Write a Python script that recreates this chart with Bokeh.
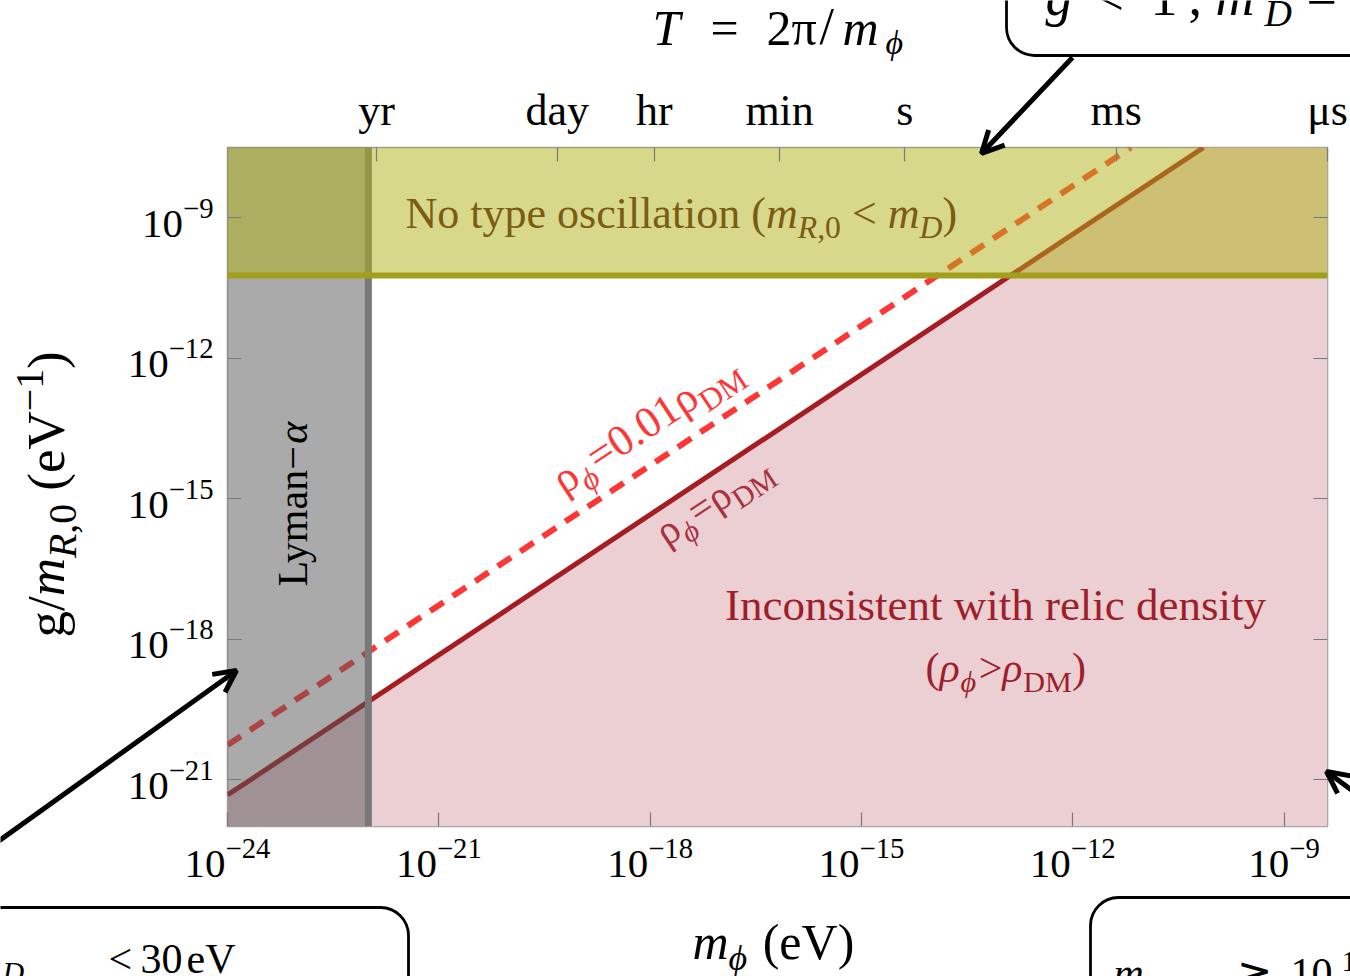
import math

from bokeh.plotting import figure
from bokeh.models import (Range1d, LogAxis, FixedTicker, Label, Arrow, OpenHead,
                          BoxAnnotation, CustomJSTickFormatter)
from bokeh.embed import file_html
from bokeh.resources import INLINE

# ---------------------------------------------------------------- data
mass_range = [1e-24, 4.1357e-9]          # m_phi axis (eV)
coupling_range = [1e-22, 3.2e-8]         # g/m_R,0 axis (eV^-1)
lyman_alpha_mass = 1e-22                 # Lyman-alpha lower bound on m_phi
no_oscillation_g = 5.9e-11               # m_R,0 < m_D above this coupling
relic_m = [1e-24, 7.2e-11]               # rho_phi = rho_DM
relic_g = [4.7e-22, 3.2e-8]
relic_1pct_m = [1e-24, 6.7e-12]          # rho_phi = 0.01 rho_DM
relic_1pct_g = [5.5e-21, 3.2e-8]

x_ticks = [1e-24, 1e-21, 1e-18, 1e-15, 1e-12, 1e-9]
y_ticks = [1e-21, 1e-18, 1e-15, 1e-12, 1e-9]

period_labels = ["yr", "day", "hr", "min", "s", "ms", "μs"]
period_seconds = [3.15576e7, 86400.0, 3600.0, 60.0, 1.0, 1e-3, 1e-6]
H_PLANCK = 4.135667696e-15               # eV s, so that T = 2*pi/m
period_masses = [H_PLANCK / t for t in period_seconds]

# ---------------------------------------------------------------- layout
W, H = 1350, 976
LEFT, RIGHT, TOP, BOTTOM = 227, 23, 147, 150
FONT = "Liberation Serif"

PINK = "#ebcfd2"
RED = "#a51c22"
LIGHT_RED = "#ff3636"
GRAY = "#555555"
YELLOW = "#b0b216"
PHI = "ϕ"

PAGE_STYLE = {"position": "absolute", "left": "0px", "top": "0px"}

chart = figure(width=W, height=H, x_axis_type="log", y_axis_type="log",
               x_range=Range1d(*mass_range), y_range=Range1d(*coupling_range),
               output_backend="svg", toolbar_location=None,
               min_border_left=LEFT, min_border_right=RIGHT,
               min_border_top=TOP, min_border_bottom=BOTTOM,
               styles=PAGE_STYLE)
chart.grid.visible = False
chart.outline_line_color = "#9a9a9a"
chart.outline_line_width = 1.5
chart.background_fill_color = "white"
chart.border_fill_color = "white"


def style_axis(ax, ticks, size, standoff):
    ax.ticker = FixedTicker(ticks=ticks)
    ax.major_tick_in = 14
    ax.major_tick_out = 0
    ax.minor_tick_in = 0
    ax.minor_tick_out = 0
    ax.axis_line_color = None
    ax.major_tick_line_color = "#7a7a7a"
    ax.major_tick_line_width = 1.2
    ax.major_label_text_font = FONT
    ax.major_label_text_font_size = size
    ax.major_label_text_color = "black"
    ax.major_label_standoff = standoff


style_axis(chart.xaxis[0], x_ticks, "41px", 12)
style_axis(chart.yaxis[0], y_ticks, "41px", 14)

right_axis = LogAxis(formatter=CustomJSTickFormatter(code="return ''"))
style_axis(right_axis, y_ticks, "10px", 0)
chart.add_layout(right_axis, "right")

top_axis = LogAxis(major_label_overrides=dict(zip(period_masses, period_labels)))
style_axis(top_axis, period_masses, "44px", 13)
chart.add_layout(top_axis, "above")

# ---------------------------------------------------------------- regions
m_lo, m_hi = mass_range
g_lo, g_hi = coupling_range

# relic density excluded (below the rho_phi = rho_DM line)
chart.patch(x=[m_lo, relic_m[0], relic_m[1], m_hi, m_hi],
            y=[g_lo, relic_g[0], relic_g[1], g_hi, g_lo],
            fill_color=PINK, line_color=None)

chart.line(relic_1pct_m, relic_1pct_g, line_color=LIGHT_RED, line_width=6,
           line_dash="16 11")
chart.line(relic_m, relic_g, line_color=RED, line_width=5)

# Lyman-alpha band
chart.quad(left=m_lo, right=lyman_alpha_mass, bottom=g_lo, top=g_hi,
           fill_color=GRAY, fill_alpha=0.5, line_color=None)
chart.segment(x0=lyman_alpha_mass, y0=g_lo, x1=lyman_alpha_mass, y1=g_hi,
              line_color="#787878", line_width=7)

# no type oscillation band
chart.quad(left=m_lo, right=m_hi, bottom=no_oscillation_g, top=g_hi,
           fill_color=YELLOW, fill_alpha=0.5, line_color=None)
chart.segment(x0=m_lo, y0=no_oscillation_g, x1=m_hi, y1=no_oscillation_g,
              line_color="#a29f1c", line_width=6)

# ---------------------------------------------------------------- notes layer
# A transparent page-sized layer on top of the chart, in page pixels
# (y grows downward), for titles, labels and the call-out boxes.
notes = figure(width=W, height=H, x_range=Range1d(0, W), y_range=Range1d(H, 0),
               output_backend="svg", toolbar_location=None, title=None,
               x_axis_location=None, y_axis_location=None, min_border=0,
               styles=dict(PAGE_STYLE, **{"pointer-events": "none"}))
notes.grid.visible = False
notes.outline_line_color = None
notes.background_fill_color = None
notes.border_fill_color = None

REG = {' ': .25, '(': .333, ')': .333, ',': .25, '.': .25, '/': .278, '<': .564,
       '=': .564, '>': .564, '−': .564, '-': .333, 'D': .722, 'I': .333, 'L': .611,
       'M': .889, 'N': .722, 'R': .667, 'T': .611, 'V': .722, 'a': .444, 'c': .444,
       'd': .5, 'e': .444, 'g': .5, 'h': .5, 'i': .278, 'l': .278, 'm': .778,
       'n': .5, 'o': .5, 'p': .5, 'r': .333, 's': .389, 't': .278, 'w': .722,
       'y': .5, 'ρ': .5, 'ϕ': .6, 'π': .55, 'α': .53, '≳': .55, 'ν': .5}
ITA = {'m': .722, 'R': .611, 'D': .722, 'T': .556, 'g': .5, 'ϕ': .6, 'ρ': .5,
       'α': .53, 'ν': .45}
BASELINE_LIFT = 0.42   # em; puts the glyph baseline on the requested point


def width(text, italic, size):
    tot = 0.0
    for ch in text:
        if italic and ch in ITA:
            tot += ITA[ch]
        elif ch.isdigit():
            tot += 0.5
        else:
            tot += REG.get(ch, 0.5)
    return tot * size


def put(x, y, text, size, color="black", italic=False, angle=0.0, align="left"):
    """Place a label by its baseline start (page pixels)."""
    lift = BASELINE_LIFT * size
    x -= lift * math.sin(angle)
    y -= lift * math.cos(angle)
    notes.add_layout(Label(x=x, y=y, text=text, text_font=FONT,
                           text_font_size=f"{size:.1f}px",
                           text_font_style="italic" if italic else "normal",
                           text_color=color, angle=angle, text_align=align,
                           text_baseline="alphabetic"))


def runs(x, y, parts, size, color="black", angle=0.0):
    """Chain text pieces (text, italic, scale, shift_em) along a (rotated) baseline."""
    ca, sa = math.cos(angle), math.sin(angle)
    adv = 0.0
    for text, italic, scale, shift in parts:
        fs = size * scale
        adv += (len(text) - len(text.lstrip(" "))) * REG[' '] * fs
        body = text.strip(" ")
        sh = shift * size
        put(x + adv * ca - sh * sa, y - adv * sa - sh * ca, body, fs, color, italic, angle)
        adv += width(body, italic, fs)
        adv += (len(text) - len(text.rstrip(" "))) * REG[' '] * fs


SUB, SUP = -0.22, 0.42

# call-out boxes and pointers
for left, right, top, bottom in [(1006, 1420, -60, 55), (-60, 408, 907, 1060),
                                 (1090, 1420, 897, 1060)]:
    notes.add_layout(BoxAnnotation(left=left, right=right, top=top, bottom=bottom,
                                   fill_alpha=0, line_color="black", line_alpha=1.0,
                                   line_width=2.8, border_radius=28))

for x0, y0, x1, y1 in [(1072, 57, 981, 153), (-8, 845, 236, 670), (1365, 800, 1326, 771)]:
    notes.add_layout(Arrow(x_start=x0, y_start=y0, x_end=x1, y_end=y1,
                           line_color="black", line_width=5,
                           end=OpenHead(size=22, line_width=5, line_color="black")))

# axis titles
put(652, 48, "T", 50, italic=True)
put(710, 48, "=", 50)
put(766, 48, "2π", 50)
put(819, 48, "/", 52)
put(842, 48, "m", 50, italic=True)
put(885, 56, PHI, 34, italic=True)

runs(68, 637, [("g/", False, 1, 0), ("m", True, 1, 0), ("R", True, .75, SUB),
               (",0", False, .75, SUB), (" (eV", False, 1, 0), ("−1", False, .75, SUP),
               (")", False, 1, 0)], 53, angle=math.pi / 2)

runs(692, 962, [("m", True, 1, 0), (PHI, True, .72, SUB), (" (eV)", False, 1, 0)], 50)

# region labels
runs(405, 231, [("No type oscillation (", False, 1, 0), ("m", True, 1, 0),
                ("R", True, .72, SUB), (",0", False, .72, SUB), (" < ", False, 1, 0),
                ("m", True, 1, 0), ("D", True, .72, SUB), (")", False, 1, 0)],
     44, color="#7c5b12")

runs(310, 586, [("Lyman−", False, 1, 0), ("α", True, 1, 0)], 42, angle=math.pi / 2)

put(995, 623, "Inconsistent with relic density", 45, color="#9e1f2b", align="center")
runs(925, 685, [("(", False, 1, 0), ("ρ", True, 1, 0), (PHI, True, .72, SUB),
                (">", False, 1, 0), ("ρ", True, 1, 0), ("DM", False, .72, SUB),
                (")", False, 1, 0)], 42, color="#9e1f2b")

line_angle = math.atan2(599, 903)
runs(566, 498, [("ρ", False, 1, 0), (PHI, True, .72, SUB), ("=0.01", False, 1, 0),
                ("ρ", False, 1, 0), ("DM", False, .72, SUB)], 44,
     color=LIGHT_RED, angle=line_angle)
runs(668, 549, [("ρ", False, 1, 0), (PHI, True, .72, SUB), ("=", False, 1, 0),
                ("ρ", False, 1, 0), ("DM", False, .72, SUB)], 41,
     color="#a8303f", angle=line_angle)

# call-out texts, running past the page edges
put(1045, 19, "g", 54, italic=True)
put(1093, 19, "<", 54)
put(1150, 19, "1", 54)
put(1188, 19, ",", 54)
put(1215, 19, "m", 54, italic=True)
put(1264, 28, "D", 38, italic=True)
put(1306, 19, "=", 54)

put(-30, 976, "m", 42, italic=True)
put(2, 984, "D", 30, italic=True)
put(108, 976, "<", 42)
put(140, 976, "30", 42)
put(186, 976, "eV", 42)

put(1113, 990, "m", 42, italic=True)
put(1236, 990, "≳", 42)
put(1290, 990, "10", 42)
put(1341, 974, "1", 30)

open("out.html", "w").write(file_html([chart, notes], INLINE))
